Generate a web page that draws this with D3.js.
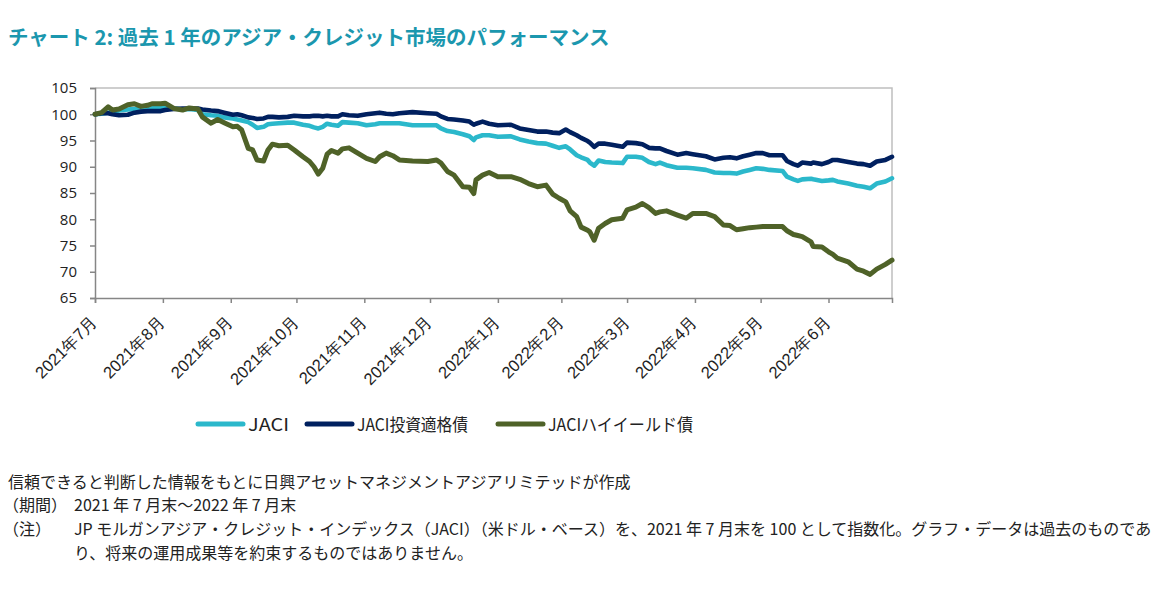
<!DOCTYPE html>
<html><head><meta charset="utf-8">
<script src="https://cdn.jsdelivr.net/npm/d3@7"></script>
<style>
body{margin:0;background:#fff;}
svg{display:block;font-family:"Noto Sans CJK JP","Noto Sans",sans-serif;}
</style></head>
<body><svg id="c" width="1157" height="593"></svg>
<script>
const dates = ["2021-07-30","2021-08-02","2021-08-05","2021-08-07","2021-08-10","2021-08-14","2021-08-17","2021-08-20","2021-08-23","2021-08-25","2021-08-29","2021-08-31","2021-09-04","2021-09-08","2021-09-11","2021-09-15","2021-09-17","2021-09-21","2021-09-24","2021-09-27","2021-10-01","2021-10-03","2021-10-05","2021-10-08","2021-10-10","2021-10-12","2021-10-15","2021-10-17","2021-10-19","2021-10-22","2021-10-26","2021-10-29","2021-11-02","2021-11-05","2021-11-07","2021-11-09","2021-11-11","2021-11-13","2021-11-15","2021-11-18","2021-11-20","2021-11-23","2021-11-27","2021-12-01","2021-12-05","2021-12-07","2021-12-10","2021-12-13","2021-12-16","2021-12-22","2021-12-29","2022-01-02","2022-01-04","2022-01-07","2022-01-10","2022-01-14","2022-01-17","2022-01-19","2022-01-20","2022-01-23","2022-01-26","2022-01-30","2022-02-05","2022-02-09","2022-02-13","2022-02-17","2022-02-21","2022-02-24","2022-02-27","2022-03-02","2022-03-04","2022-03-07","2022-03-09","2022-03-12","2022-03-13","2022-03-15","2022-03-17","2022-03-20","2022-03-23","2022-03-28","2022-03-30","2022-04-03","2022-04-06","2022-04-09","2022-04-12","2022-04-14","2022-04-17","2022-04-22","2022-04-26","2022-04-29","2022-05-05","2022-05-09","2022-05-13","2022-05-16","2022-05-19","2022-05-22","2022-05-25","2022-05-28","2022-05-31","2022-06-03","2022-06-09","2022-06-11","2022-06-14","2022-06-16","2022-06-18","2022-06-22","2022-06-23","2022-06-27","2022-06-30","2022-07-02","2022-07-04","2022-07-09","2022-07-13","2022-07-16","2022-07-19","2022-07-22","2022-07-26","2022-07-29"];

const jaciHY = [100,100.3,101.4,100.8,101.0,101.8,102.0,101.5,101.7,102.0,102.0,102.1,101.1,100.8,101.2,101.0,99.5,98.3,99.0,98.4,97.6,97.7,97.0,93.5,93.2,91.3,91.1,93.2,94.3,94.0,94.1,93.2,91.9,91.0,90.0,88.6,89.7,92.4,93.1,92.6,93.4,93.6,92.6,91.6,91.0,91.9,92.6,92.1,91.3,91.1,91.0,91.3,90.7,89.1,88.4,86.2,86.1,84.9,87.5,88.4,88.9,88.1,88.1,87.6,86.8,86.2,86.5,84.8,84.0,83.3,81.6,80.5,78.5,77.9,77.6,76.0,78.3,79.2,79.9,80.2,81.8,82.3,83.0,82.2,81.1,81.4,81.6,80.8,80.2,81.1,81.1,80.5,78.9,78.8,78.0,78.2,78.4,78.5,78.6,78.6,78.6,77.8,77.1,76.9,76.7,75.7,74.8,74.7,73.8,73.3,72.6,71.9,70.5,70.1,69.5,70.5,71.4,72.2];

const jaciIG = [100,100.2,100.2,100.0,99.8,99.9,100.3,100.5,100.6,100.6,100.6,100.8,101.0,101.1,101.1,101.1,100.9,100.7,100.6,100.3,99.9,100.0,99.8,99.4,99.3,99.1,99.2,99.5,99.5,99.4,99.5,99.7,99.6,99.6,99.7,99.7,99.6,99.7,99.6,99.6,100.0,99.8,99.7,100.0,100.2,100.3,100.1,100.0,100.2,100.4,100.2,100.1,99.6,99.1,99.0,98.8,98.6,98.0,98.2,98.6,98.2,97.9,98.0,97.3,97.0,96.7,96.7,96.5,96.4,97.1,96.6,96.0,95.5,94.9,94.6,93.8,94.4,94.4,94.2,93.8,94.6,94.5,94.3,93.6,93.5,93.5,93.0,92.3,92.6,92.4,92.0,91.4,91.7,91.8,91.6,92.0,92.3,92.6,92.6,92.2,92.2,91.1,90.5,90.2,90.8,90.6,90.8,90.5,90.9,91.3,91.3,90.9,90.6,90.5,90.2,91.0,91.3,91.9];

const jaci = [100,100.1,100.3,100.5,100.7,100.9,101.0,101.1,101.1,101.2,101.3,101.3,101.1,100.9,101.0,100.8,100.0,99.8,99.7,99.4,99.2,99.0,98.8,98.5,98.0,97.4,97.6,98.1,98.2,98.3,98.4,98.4,98.0,97.8,97.5,97.3,97.6,98.2,98.0,97.8,98.5,98.4,98.3,97.9,98.1,98.3,98.3,98.3,98.3,97.9,97.9,97.9,97.3,96.8,96.6,96.2,95.8,95.1,95.6,96.0,96.0,95.7,95.8,95.2,94.8,94.5,94.4,94.0,93.6,93.9,93.3,92.2,91.8,91.3,90.8,90.2,91.2,90.9,90.8,90.7,91.9,91.9,91.7,90.9,90.5,90.8,90.3,89.8,89.8,89.7,89.4,88.9,88.8,88.8,88.7,89.1,89.4,89.7,89.6,89.4,89.2,88.1,87.6,87.3,87.6,87.7,87.6,87.3,87.4,87.5,87.2,86.8,86.4,86.2,85.9,86.8,87.2,87.8];

const tickDates = ["2021-07-30","2021-08-30","2021-09-30","2021-10-30","2021-11-30","2021-12-30","2022-01-30","2022-02-28","2022-03-30","2022-04-30","2022-05-30","2022-06-30"];
const tickLabels = ["2021年7月","2021年8月","2021年9月","2021年10月","2021年11月","2021年12月","2022年1月","2022年2月","2022年3月","2022年4月","2022年5月","2022年6月"];
const yTicks = [65,70,75,80,85,90,95,100,105];
const seriesNames = ["JACI","JACI投資適格債","JACIハイイールド債"];
const seriesColors = ["#2bb8cb","#00205f","#4f6228"];

const parse = d3.timeParse("%Y-%m-%d");
const svg = d3.select("#c");
const L = 95, R = 892, T = 88, B = 298;
const x = d3.scaleTime().domain([parse("2021-07-30"), parse("2022-07-29")]).range([L, R]);
const y = d3.scaleLinear().domain([65, 105]).range([B, T]);

// title
svg.append("text").attr("x", 8).attr("y", 45)
  .attr("fill", "#1b97ae").attr("font-size", 20.5).attr("font-weight", "bold")
  .text("チャート 2: 過去 1 年のアジア・クレジット市場のパフォーマンス");

// frame top/right
svg.append("path").attr("d", `M${L},${T}H${R}V${B}`).attr("fill","none").attr("stroke","#bfbfbf").attr("stroke-width",1.5);

// y axis
const ya = svg.append("g").attr("transform", `translate(${L},0)`)
  .call(d3.axisLeft(y).tickValues(yTicks).tickSize(5).tickPadding(13).tickFormat(d3.format("d")));
ya.select(".domain").attr("stroke","#868686").attr("stroke-width",1.5);
ya.selectAll(".tick line").attr("stroke","#868686").attr("stroke-width",1.5);
ya.selectAll("text").attr("font-size",15).attr("fill","#222").attr("font-family","'Open Sans','Noto Sans',sans-serif");

// x axis
const xa = svg.append("g").attr("transform", `translate(0,${B})`)
  .call(d3.axisBottom(x).tickValues(tickDates.map(parse)).tickSize(5).tickFormat((d,i)=>tickLabels[i]));
xa.select(".domain").attr("stroke","#868686").attr("stroke-width",1.5);
xa.selectAll(".tick line").attr("stroke","#868686").attr("stroke-width",1.5);
xa.selectAll("text").attr("font-size",16.5).attr("fill","#222")
  .attr("text-anchor","end").attr("dy",null).attr("y",0)
  .attr("transform","translate(3,25) rotate(-45)");

// lines
const pts = dates.map(parse);
const line = d3.line().x((d,i)=>x(pts[i])).y(d=>y(d));
[jaci, jaciIG, jaciHY].forEach((s,k)=>{
  svg.append("path").datum(s).attr("d", line).attr("fill","none")
    .attr("stroke", seriesColors[k]).attr("stroke-width", k===2 ? 5 : 4.6)
    .attr("stroke-linejoin","round").attr("stroke-linecap","round");
});

// legend
const legX = [198, 307, 498];
const legW = [41, 111, 145];
seriesNames.forEach((n,k)=>{
  svg.append("line").attr("x1",legX[k]).attr("x2",legX[k]+45).attr("y1",424).attr("y2",424)
    .attr("stroke",seriesColors[k]).attr("stroke-width",5).attr("stroke-linecap","round");
  svg.append("text").attr("x",legX[k]+50).attr("y",430.5).attr("font-size",17.5).attr("fill","#222")
    .attr("textLength",legW[k]).attr("lengthAdjust","spacingAndGlyphs").text(n);
});

// notes
const notes = [
  {x:8, y:488, t:"信頼できると判断した情報をもとに日興アセットマネジメントアジアリミテッドが作成"},
  {x:3, y:511, t:"（期間）"},
  {x:74, y:511, t:"2021 年 7 月末～2022 年 7 月末"},
  {x:3, y:535, t:"（注）"},
  {x:74, y:535, t:"JP モルガンアジア・クレジット・インデックス（JACI）（米ドル・ベース）を、2021 年 7 月末を 100 として指数化。グラフ・データは過去のものであ"},
  {x:74, y:559, t:"り、将来の運用成果等を約束するものではありません。"}
];
notes.forEach(n=>{
  svg.append("text").attr("x",n.x).attr("y",n.y).attr("font-size",16).attr("fill","#222").text(n.t);
});
</script></body></html>
